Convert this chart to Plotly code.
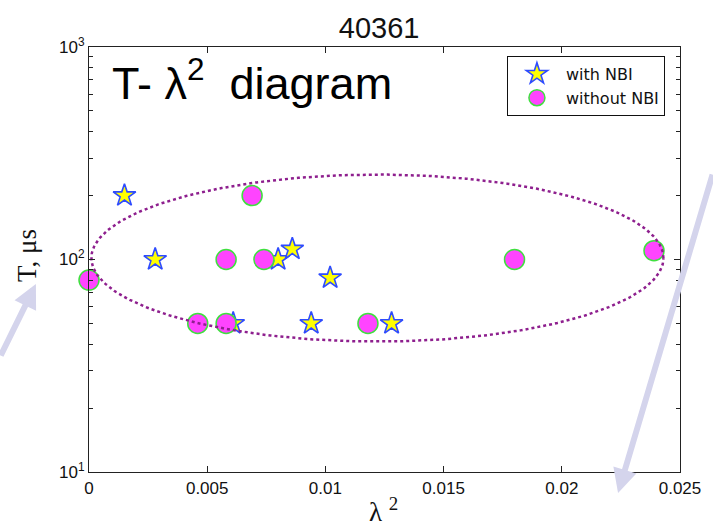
import math
import numpy as np
import plotly.graph_objects as go

# Shot 40361: pulse duration T versus lambda^2
lam2_nbi = [0.0015, 0.0028, 0.0061, 0.0080, 0.0086, 0.0094, 0.0102, 0.0128]
t_nbi = [200, 100, 50, 100, 112, 50, 82, 50]

lam2_no_nbi = [0.0, 0.0046, 0.0058, 0.0058, 0.0069, 0.0074, 0.0118, 0.0180, 0.0239]
t_no_nbi = [80, 50, 50, 100, 200, 100, 50, 100, 110]

x_ticks = [0, 0.005, 0.01, 0.015, 0.02, 0.025]
x_tick_text = ["0", "0.005", "0.01", "0.015", "0.02", "0.025"]
y_ticks = [10, 100, 1000]
y_tick_text = ["10<sup>1</sup>", "10<sup>2</sup>", "10<sup>3</sup>"]
y_minor = [20, 30, 40, 50, 60, 70, 80, 90, 200, 300, 400, 500, 600, 700, 800, 900]

# Outline of the main cluster (lambda^2 extent, T extent)
cluster_lam2 = [0.0001, 0.0243]
cluster_t = [41.1, 251.0]

W, H = 713, 527
L, R, T, B = 89, 23, 47, 55
PW, PH = W - L - R, H - T - B


def px_x(px):
    return (px - L) / PW


def px_y(py):
    return (H - B - py) / PH


# Ellipse in (lambda^2, log10 T) space around the cluster
cx = (cluster_lam2[0] + cluster_lam2[1]) / 2
ax_half = (cluster_lam2[1] - cluster_lam2[0]) / 2
ly0, ly1 = math.log10(cluster_t[0]), math.log10(cluster_t[1])
cy = (ly0 + ly1) / 2
ay_half = (ly1 - ly0) / 2
theta = np.linspace(0, 2 * np.pi, 361)
ell_x = cx + ax_half * np.cos(theta)
ell_y = 10 ** (cy + ay_half * np.sin(theta))

fig = go.Figure()

fig.add_trace(go.Scatter(
    x=lam2_nbi, y=t_nbi, mode="markers", name="with NBI",
    marker=dict(symbol="star", size=17, color="#FFFF00",
                line=dict(color="#2E4BFF", width=1.6)),
    cliponaxis=False,
))
fig.add_trace(go.Scatter(
    x=lam2_no_nbi, y=t_no_nbi, mode="markers", name="without NBI",
    marker=dict(symbol="circle", size=20, color="#FF44FF",
                line=dict(color="#3FE03F", width=1.5)),
    cliponaxis=False,
))
fig.add_trace(go.Scatter(
    x=ell_x, y=ell_y, mode="lines", showlegend=False, hoverinfo="skip",
    line=dict(color="#8E1F8E", width=2.5, dash="dot"),
    cliponaxis=False,
))

axis_common = dict(
    showline=True, linecolor="#222222", linewidth=1.2, mirror="allticks",
    ticks="inside", tickcolor="#222222", showgrid=False, zeroline=False,
    tickfont=dict(family="Liberation Sans, Arial", size=17, color="#111111"),
)

fig.update_xaxes(
    range=[0, 0.025], tickmode="array", tickvals=x_ticks, ticktext=x_tick_text,
    ticklen=6, **axis_common,
)
fig.update_yaxes(
    type="log", range=[1, 3], tickmode="array", tickvals=y_ticks,
    ticktext=y_tick_text, ticklen=6,
    minor=dict(tickmode="array", tickvals=y_minor, ticks="inside",
               ticklen=4, tickcolor="#222222", showgrid=False),
    **axis_common,
)

fig.add_annotation(
    xref="paper", yref="paper", x=px_x(110), y=px_y(80),
    xanchor="left", yanchor="middle", showarrow=False,
    text="T- \u03bb<sup>2</sup>\u00a0 diagram",
    font=dict(family="Liberation Sans, Arial", size=45, color="#000000"),
)
fig.add_annotation(
    xref="paper", yref="paper", x=px_x(26), y=px_y(256),
    xanchor="center", yanchor="middle", showarrow=False, textangle=-90,
    text="T, \u03bcs",
    font=dict(family="Liberation Serif, Times New Roman", size=27, color="#111111"),
)
fig.add_annotation(
    xref="paper", yref="paper", x=px_x(388), y=px_y(510),
    xanchor="center", yanchor="middle", showarrow=False,
    text="\u03bb <sup>2</sup>",
    font=dict(family="Liberation Serif, Times New Roman", size=27, color="#111111"),
)

# Pointer arrows
arrow_style = dict(showarrow=True, text="", arrowcolor="#D4D4EC", arrowwidth=6,
                   arrowhead=2, arrowsize=0.8, xref="paper", yref="paper")
fig.add_annotation(x=px_x(35), y=px_y(284), ax=-55, ay=73, **arrow_style)
fig.add_annotation(x=px_x(627), y=px_y(493), ax=96, ay=-320, **arrow_style)

fig.update_layout(
    width=W, height=H,
    margin=dict(l=L, r=R, t=T, b=B),
    paper_bgcolor="white", plot_bgcolor="white",
    title=dict(text="40361", xref="paper", x=px_x(384), xanchor="center",
               yref="container", y=1 - 28 / H, yanchor="middle",
               font=dict(family="Liberation Sans, Arial", size=29, color="#111111")),
    legend=dict(x=px_x(514), y=px_y(56), xanchor="left", yanchor="top",
                bgcolor="white", bordercolor="#111111", borderwidth=1,
                itemwidth=48, tracegroupgap=0,
                font=dict(family="DejaVu Sans", size=16, color="#111111")),
    showlegend=True,
)

fig.write_html("out.html")
